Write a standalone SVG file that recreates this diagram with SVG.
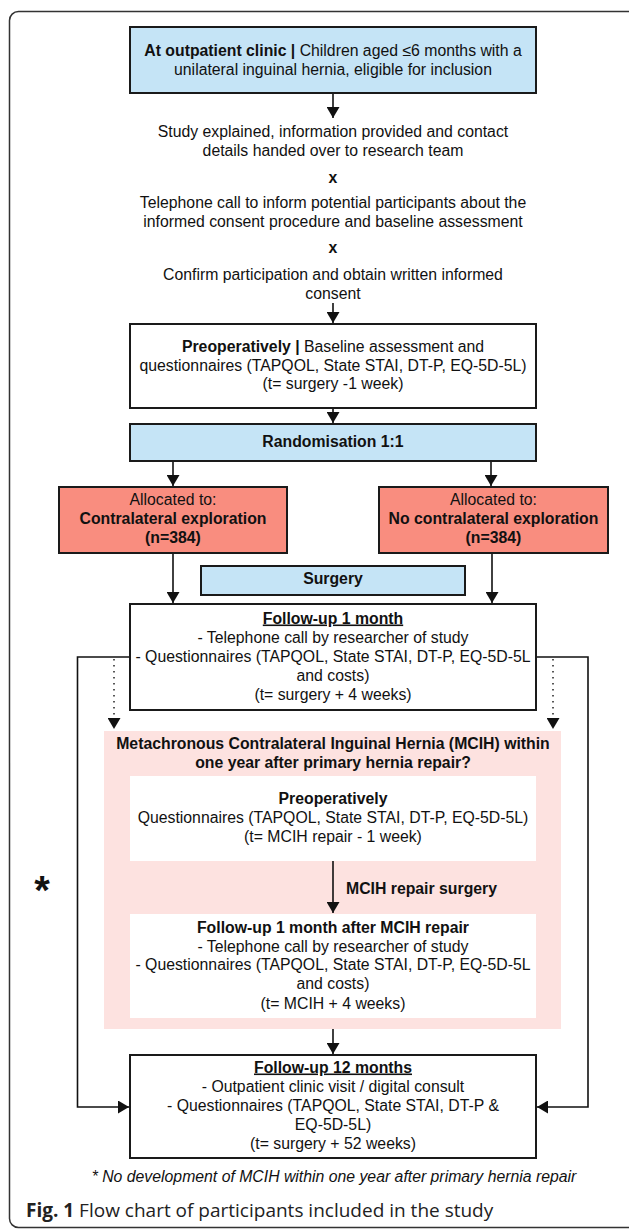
<svg xmlns="http://www.w3.org/2000/svg" width="629" height="1230" viewBox="0 0 629 1230">
<style>
text{font-family:"Liberation Sans",Arial,sans-serif;font-size:15.8px;fill:#111;text-anchor:middle}
.b{font-weight:bold}
.box{stroke:#1a1a1a;stroke-width:2}
.blue{fill:#c5e4f6}
.red{fill:#f98d7f}
.white{fill:#fff}
.ln{fill:none;stroke:#111;stroke-width:1.6}
.dot{fill:none;stroke:#111;stroke-width:1.4;stroke-dasharray:1.5 4.5}
</style>
<defs>
<marker id="ah" viewBox="0 0 11 13" refX="11" refY="6.5" markerWidth="11" markerHeight="13" markerUnits="userSpaceOnUse" orient="auto">
<path d="M0,0 L11,6.5 L0,13 z" fill="#111"/>
</marker>
</defs>
<rect x="9.5" y="11.5" width="630" height="1216" rx="9" fill="#fff" stroke="#333" stroke-width="1.5"/>

<g id="mcih-region">
<rect x="104" y="731" width="457" height="298" fill="#fde2e0"/>
<text class="b" x="333" y="748.5">Metachronous Contralateral Inguinal Hernia (MCIH) within</text>
<text class="b" x="333" y="767.5">one year after primary hernia repair?</text>
</g>

<g id="connectors">
<line class="ln" x1="333" y1="93" x2="333" y2="118" marker-end="url(#ah)"/>
<line class="ln" x1="333" y1="303" x2="333" y2="323" marker-end="url(#ah)"/>
<line class="ln" x1="333" y1="408" x2="333" y2="423" marker-end="url(#ah)"/>
<line class="ln" x1="173" y1="461" x2="173" y2="486" marker-end="url(#ah)"/>
<line class="ln" x1="491" y1="461" x2="491" y2="486" marker-end="url(#ah)"/>
<line class="ln" x1="173" y1="553" x2="173" y2="603" marker-end="url(#ah)"/>
<line class="ln" x1="492" y1="553" x2="492" y2="603" marker-end="url(#ah)"/>
<path class="ln" d="M130,657 H77.5 V1107 H129" marker-end="url(#ah)"/>
<path class="ln" d="M536,657 H588 V1107 H537" marker-end="url(#ah)"/>
<line class="dot" x1="114" y1="659" x2="114" y2="729" marker-end="url(#ah)"/>
<line class="dot" x1="553" y1="659" x2="553" y2="729" marker-end="url(#ah)"/>
<line class="ln" x1="333" y1="861" x2="333" y2="913" marker-end="url(#ah)"/>
<line class="ln" x1="333" y1="1029" x2="333" y2="1054" marker-end="url(#ah)"/>
</g>

<g id="n-clinic">
<rect class="box blue" x="130" y="27" width="406" height="66"/>
<text x="333" y="55.5"><tspan class="b">At outpatient clinic |</tspan> Children aged ≤6 months with a</text>
<text x="333" y="74.5">unilateral inguinal hernia, eligible for inclusion</text>
</g>

<g id="n-steps">
<text x="333" y="136.5">Study explained, information provided and contact</text>
<text x="333" y="155.5">details handed over to research team</text>
<text class="b" x="333" y="182.5">x</text>
<text x="333" y="207.5">Telephone call to inform potential participants about the</text>
<text x="333" y="226.5">informed consent procedure and baseline assessment</text>
<text class="b" x="333" y="252.5">x</text>
<text x="333" y="279.5">Confirm participation and obtain written informed</text>
<text x="333" y="298.5">consent</text>
</g>

<g id="n-preop">
<rect class="box white" x="130" y="324" width="406" height="84"/>
<text x="333" y="351.5"><tspan class="b">Preoperatively |</tspan> Baseline assessment and</text>
<text x="333" y="370.5">questionnaires (TAPQOL, State STAI, DT-P, EQ-5D-5L)</text>
<text x="333" y="388.5">(t= surgery -1 week)</text>
</g>

<g id="n-random">
<rect class="box blue" x="130" y="424" width="406" height="37"/>
<text class="b" x="333" y="446.5">Randomisation 1:1</text>
</g>

<g id="n-alloc-left">
<rect class="box red" x="59" y="487" width="228" height="66"/>
<text x="173" y="504.5">Allocated to:</text>
<text class="b" x="173" y="523.5">Contralateral exploration</text>
<text class="b" x="173" y="542.5">(n=384)</text>
</g>

<g id="n-alloc-right">
<rect class="box red" x="379" y="487" width="229" height="66"/>
<text x="493.5" y="504.5">Allocated to:</text>
<text class="b" x="493.5" y="523.5">No contralateral exploration</text>
<text class="b" x="493.5" y="542.5">(n=384)</text>
</g>

<g id="n-surgery">
<rect class="box blue" x="201" y="566" width="264" height="29"/>
<text class="b" x="333" y="583.5">Surgery</text>
</g>

<g id="n-fu1">
<rect class="box white" x="130" y="604" width="406" height="106"/>
<text class="b" x="333" y="623.5" text-decoration="underline">Follow-up 1 month</text>
<text x="333" y="642.5">- Telephone call by researcher of study</text>
<text x="333" y="661.5">- Questionnaires (TAPQOL, State STAI, DT-P, EQ-5D-5L</text>
<text x="333" y="680.5">and costs)</text>
<text x="333" y="699.5">(t= surgery + 4 weeks)</text>
</g>

<g id="n-mcih-preop">
<rect class="white" x="130" y="776" width="406" height="85"/>
<text class="b" x="333" y="803.5">Preoperatively</text>
<text x="333" y="822.5">Questionnaires (TAPQOL, State STAI, DT-P, EQ-5D-5L)</text>
<text x="333" y="841.5">(t= MCIH repair - 1 week)</text>
</g>

<g id="n-mcih-label">
<text class="b" x="346" y="893.5" style="text-anchor:start">MCIH repair surgery</text>
</g>

<g id="n-mcih-fu">
<rect class="white" x="130" y="914" width="406" height="104"/>
<text class="b" x="333" y="932.5">Follow-up 1 month after MCIH repair</text>
<text x="333" y="951.5">- Telephone call by researcher of study</text>
<text x="333" y="969.5">- Questionnaires (TAPQOL, State STAI, DT-P, EQ-5D-5L</text>
<text x="333" y="988.5">and costs)</text>
<text x="333" y="1008.5">(t= MCIH + 4 weeks)</text>
</g>

<g id="n-fu12">
<rect class="box white" x="130" y="1055" width="406" height="103"/>
<text class="b" x="333" y="1072.5" text-decoration="underline">Follow-up 12 months</text>
<text x="333" y="1091.5">- Outpatient clinic visit / digital consult</text>
<text x="333" y="1110.5">- Questionnaires (TAPQOL, State STAI, DT-P &amp;</text>
<text x="333" y="1129.5">EQ-5D-5L)</text>
<text x="333" y="1148.5">(t= surgery + 52 weeks)</text>
</g>

<g id="n-star">
<text class="b" x="42" y="904" style="font-size:40px">*</text>
</g>

<g id="n-footnote">
<text x="334" y="1182" style="font-style:italic;font-size:15.8px">* No development of MCIH within one year after primary hernia repair</text>
</g>

<g id="n-caption">
<text x="26" y="1217" style="text-anchor:start;font-family:'Open Sans','Noto Sans',sans-serif;font-size:19px;fill:#222"><tspan style="font-weight:bold">Fig. 1</tspan> Flow chart of participants included in the study</text>
</g>
</svg>
